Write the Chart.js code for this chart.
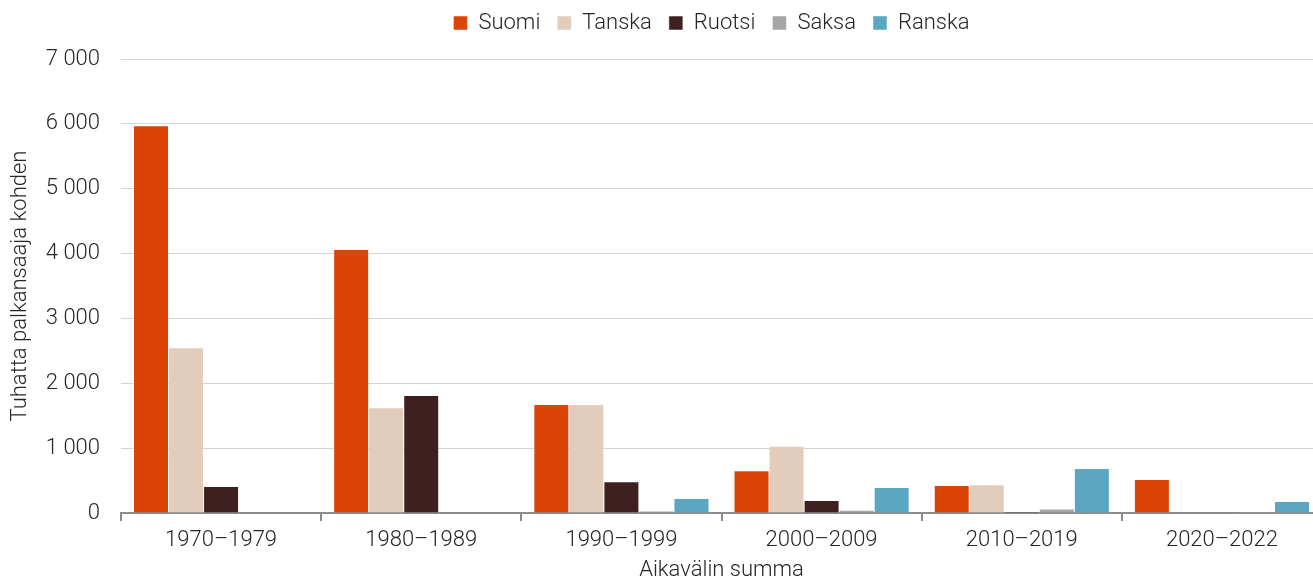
<!DOCTYPE html>
<html>
<script src="https://cdn.jsdelivr.net/npm/chart.js@4.4.1/dist/chart.umd.min.js"></script>
<style>
  body { margin: 0; overflow: hidden; background: #fff; }
  #wrap { width: 1322px; height: 581px; }
</style>
<body>
  <div id="wrap">
    <canvas id="myChart"></canvas>
  </div>
  <script>
    const periods = ['1970–1979', '1980–1989', '1990–1999', '2000–2009', '2010–2019', '2020–2022'];
    const suomi  = [5980, 4070, 1680, 660, 430, 525];
    const tanska = [2555, 1630, 1680, 1035, 445, 0];
    const ruotsi = [415, 1820, 490, 200, 20, 0];
    const saksa  = [0, 0, 40, 50, 70, 10];
    const ranska = [0, 0, 230, 400, 695, 185];

    const font = { family: 'Roboto', weight: 300, size: 22 };
    const txt = '#262626';

    const mk = (label, data, color) => ({
      label: label,
      data: data,
      backgroundColor: color,
      borderColor: '#ffffff',
      borderWidth: { top: 1, left: 0.5, right: 0.5, bottom: 0 },
      categoryPercentage: 0.875,
      barPercentage: 1.0
    });

    // taller legend block so the plot starts lower, legend nudged a bit up/left
    const legendTweak = {
      id: 'legendTweak',
      beforeInit(chart) {
        const lg = chart.legend;
        const fit = lg.fit;
        lg.fit = function () {
          fit.call(this);
          this.height = 59;
        };
        const draw = lg.draw;
        lg.draw = function () {
          this.ctx.save();
          this.ctx.translate(-10, -5);
          draw.call(this);
          this.ctx.restore();
        };
      }
    };

    new Chart('myChart', {
      type: 'bar',
      data: {
        labels: periods,
        datasets: [
          mk('Suomi', suomi, '#dc4405'),
          mk('Tanska', tanska, '#e2cdbc'),
          mk('Ruotsi', ruotsi, '#3f2021'),
          mk('Saksa', saksa, '#a5a5a5'),
          mk('Ranska', ranska, '#5ba6c1')
        ]
      },
      plugins: [legendTweak],
      options: {
        responsive: true,
        maintainAspectRatio: false,
        animation: false,
        layout: { padding: 0 },
        plugins: {
          tooltip: { enabled: false },
          legend: {
            position: 'top',
            fullSize: false,
            labels: {
              font: font,
              color: txt,
              boxWidth: 14,
              boxHeight: 14,
              padding: 17
            }
          }
        },
        scales: {
          x: {
            afterFit: (axis) => { axis.height = 68; },
            grid: { display: true, drawOnChartArea: false, tickLength: 8, color: '#8c8c8c', lineWidth: 2 },
            border: { display: true, color: '#8c8c8c', width: 2 },
            ticks: { font: font, color: txt, padding: 6 },
            title: { display: true, text: 'Aikavälin summa', font: font, color: txt, padding: { top: 0, bottom: -3 } }
          },
          y: {
            afterFit: (axis) => { axis.width = 121; },
            min: 0,
            max: 7000,
            ticks: {
              stepSize: 1000,
              font: font,
              color: txt,
              padding: 21,
              callback: (v) => v.toString().replace(/\B(?=(\d{3})+(?!\d))/g, ' ')
            },
            grid: { color: '#d4d4d4', lineWidth: 1, drawTicks: false },
            border: { display: false },
            title: { display: true, text: 'Tuhatta palkansaaja kohden', font: font, color: txt, padding: { top: 7, bottom: 0 } }
          }
        }
      }
    });
  </script>
</body>
</html>
